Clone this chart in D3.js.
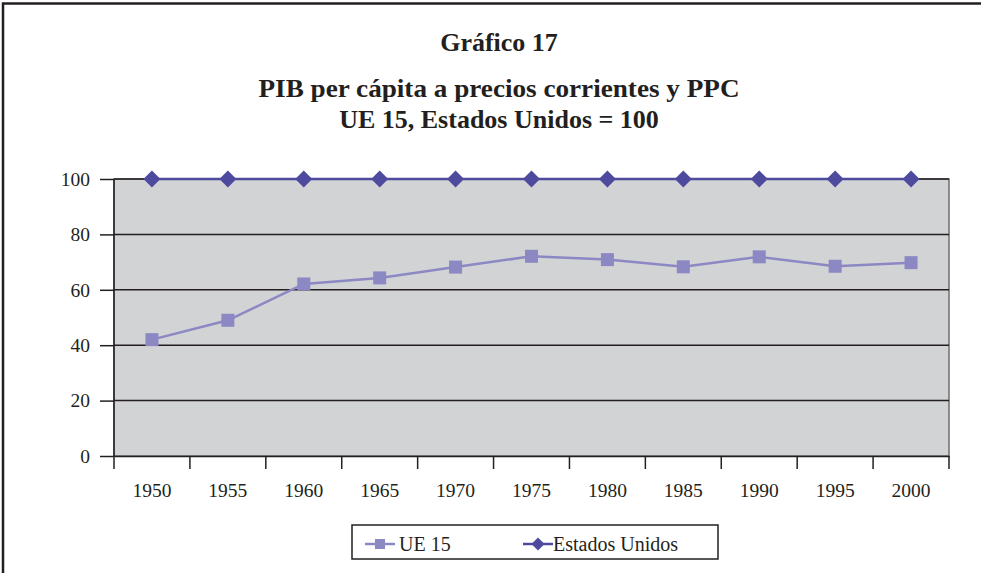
<!DOCTYPE html>
<html>
<head>
<meta charset="utf-8">
<script src="https://cdn.jsdelivr.net/npm/d3@7/dist/d3.min.js"></script>
<style>
  body { margin: 0; background: #fff; }
  svg { display: block; font-family: "Liberation Serif", "Times New Roman", serif; }
  .title { font-weight: bold; font-size: 26px; fill: #231f20; text-anchor: middle; }
  .tick text { font-size: 19.5px; fill: #231f20; font-family: "Liberation Serif", serif; }
  .legend-text { font-size: 20px; fill: #231f20; font-family: "Liberation Serif", serif; }
</style>
</head>
<body>
<script>
var years = ['1950', '1955', '1960', '1965', '1970', '1975', '1980', '1985', '1990', '1995', '2000'];
var ue15 = [42, 49, 62.1, 64.3, 68.2, 72.1, 70.9, 68.3, 71.9, 68.5, 69.8];
var eeuu = [100, 100, 100, 100, 100, 100, 100, 100, 100, 100, 100];
var yTicks = [0, 20, 40, 60, 80, 100];

var width = 981,
    height = 573;

var svg = d3.select('body')
    .append('svg')
    .attr('width', width)
    .attr('height', height);

// outer frame (right and bottom edges fall outside the picture)
svg.append('path')
    .attr('d', 'M3,' + height + 'V3.5H' + width)
    .attr('fill', 'none')
    .attr('stroke', '#231f20')
    .attr('stroke-width', 2.5);

var titles = [['Gráfico 17', 51], ['PIB per cápita a precios corrientes y PPC', 97], ['UE 15, Estados Unidos = 100', 128]];
svg.selectAll('.title')
    .data(titles).enter()
    .append('text')
    .attr('class', 'title')
    .attr('x', 499)
    .attr('y', d => d[1])
    .attr('textLength', (d, i) => i === 1 ? 481 : null)
    .attr('lengthAdjust', 'spacingAndGlyphs')
    .text(d => d[0]);

var plot = {left: 114, right: 949, top: 179, bottom: 456};

var x = d3.scaleBand()
    .domain(years)
    .range([plot.left, plot.right]);

var y = d3.scaleLinear()
    .domain([0, 100])
    .range([plot.bottom, plot.top]);

svg.append('rect')
    .attr('x', plot.left)
    .attr('y', plot.top)
    .attr('width', plot.right - plot.left)
    .attr('height', plot.bottom - plot.top)
    .attr('fill', '#d2d3d5')
    .attr('stroke', '#6d6e70')
    .attr('stroke-width', 1.5);

svg.append('g')
    .selectAll('line')
    .data(yTicks.slice(1)).enter()
    .append('line')
    .attr('x1', plot.left)
    .attr('x2', plot.right)
    .attr('y1', d => y(d))
    .attr('y2', d => y(d))
    .attr('stroke', '#231f20')
    .attr('stroke-width', 1.5);

var yAxis = svg.append('g')
    .attr('transform', 'translate(' + plot.left + ',0)')
    .call(d3.axisLeft(y).tickValues(yTicks).tickSize(14).tickPadding(10));
yAxis.selectAll('line, path').attr('stroke', '#231f20').attr('stroke-width', 1.5);
yAxis.select('.domain').attr('d', 'M0,' + plot.top + 'V' + plot.bottom);

var xAxis = svg.append('g')
    .attr('transform', 'translate(0,' + plot.bottom + ')')
    .call(d3.axisBottom(x).tickSize(0).tickPadding(27));
xAxis.select('.domain').attr('stroke', '#231f20').attr('stroke-width', 1.5);

// category boundary ticks
xAxis.selectAll('.boundary')
    .data(d3.range(years.length + 1)).enter()
    .append('line')
    .attr('class', 'boundary')
    .attr('x1', i => plot.left + i * x.step())
    .attr('x2', i => plot.left + i * x.step())
    .attr('y1', 0)
    .attr('y2', 13)
    .attr('stroke', '#231f20')
    .attr('stroke-width', 1.5);

var line = d3.line()
    .x((d, i) => x(years[i]) + x.bandwidth() / 2)
    .y(d => y(d));

var ueColor = '#8c88c4',
    usColor = '#4e4b9f';

svg.append('path')
    .datum(ue15)
    .attr('d', line)
    .attr('fill', 'none')
    .attr('stroke', ueColor)
    .attr('stroke-width', 2.5);

svg.append('g')
    .selectAll('rect')
    .data(ue15).enter()
    .append('rect')
    .attr('x', (d, i) => x(years[i]) + x.bandwidth() / 2 - 6.5)
    .attr('y', d => y(d) - 6.5)
    .attr('width', 13)
    .attr('height', 13)
    .attr('fill', ueColor);

svg.append('path')
    .datum(eeuu)
    .attr('d', line)
    .attr('fill', 'none')
    .attr('stroke', usColor)
    .attr('stroke-width', 2.5);

var diamond = 'M0,-8.5L8.5,0L0,8.5L-8.5,0Z';

svg.append('g')
    .selectAll('path')
    .data(eeuu).enter()
    .append('path')
    .attr('transform', (d, i) => 'translate(' + (x(years[i]) + x.bandwidth() / 2) + ',' + y(d) + ')')
    .attr('d', diamond)
    .attr('fill', usColor);

// legend
var legend = svg.append('g');
legend.append('rect')
    .attr('x', 352)
    .attr('y', 525)
    .attr('width', 366)
    .attr('height', 34)
    .attr('fill', '#fff')
    .attr('stroke', '#231f20')
    .attr('stroke-width', 1.5);

var legendItems = [
    {name: 'UE 15', color: ueColor, x: 365, shape: 'square'},
    {name: 'Estados Unidos', color: usColor, x: 523, shape: 'diamond'}
];

var item = legend.selectAll('.item')
    .data(legendItems).enter()
    .append('g')
    .attr('transform', d => 'translate(' + d.x + ',544)');

item.append('line')
    .attr('x1', 0)
    .attr('x2', 30)
    .attr('stroke', d => d.color)
    .attr('stroke-width', 2.5);

item.append('path')
    .attr('transform', 'translate(15,0)')
    .attr('d', d => d.shape === 'square' ? 'M-5,-5H5V5H-5Z' : 'M0,-6.5L6.5,0L0,6.5L-6.5,0Z')
    .attr('fill', d => d.color);

item.append('text')
    .attr('class', 'legend-text')
    .attr('x', d => d.shape === 'square' ? 34 : 30)
    .attr('y', 7)
    .text(d => d.name);
</script>
</body>
</html>
